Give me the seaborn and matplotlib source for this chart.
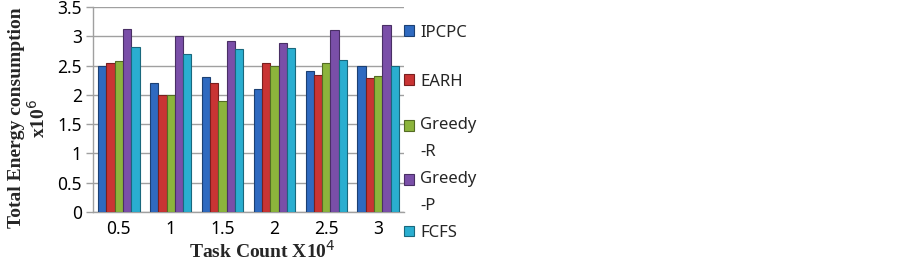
import matplotlib
matplotlib.use("Agg")
import matplotlib.pyplot as plt
import matplotlib.colors as mcolors
from matplotlib.patches import Rectangle
from matplotlib.legend_handler import HandlerPatch
import seaborn as sns
import pandas as pd

task_counts = ["0.5", "1", "1.5", "2", "2.5", "3"]
algorithms = ["IPCPC", "EARH", "Greedy-R", "Greedy-P", "FCFS"]
legend_labels = ["IPCPC", "EARH", "Greedy\n-R", "Greedy\n-P", "FCFS"]
ipcpc = [2.50, 2.20, 2.30, 2.10, 2.40, 2.50]
earh = [2.55, 2.00, 2.20, 2.54, 2.34, 2.28]
greedy_r = [2.58, 2.00, 1.90, 2.49, 2.55, 2.33]
greedy_p = [3.12, 3.00, 2.92, 2.88, 3.10, 3.20]
fcfs = [2.82, 2.70, 2.79, 2.80, 2.59, 2.50]
colors = ["#2f6ac0", "#c93434", "#8cb43c", "#7a4fa8", "#2aaed0"]

series = [ipcpc, earh, greedy_r, greedy_p, fcfs]
rows = []
for algo, vals in zip(algorithms, series):
    for t, v in zip(task_counts, vals):
        rows.append({"task": t, "energy": v, "algo": algo})
df = pd.DataFrame(rows)

sns.set_theme(style="white")
plt.rcParams["font.family"] = ["Noto Sans", "DejaVu Sans"]


def darker(c, f=0.6):
    return tuple(x * f for x in mcolors.to_rgb(c))


fig = plt.figure(figsize=(9.03, 2.62), dpi=100)
ax = fig.add_axes([0.103, 0.1908, 0.3444, 0.7825])

sns.barplot(data=df, x="task", y="energy", hue="algo", order=task_counts,
            hue_order=algorithms, palette=colors, width=0.8, ax=ax,
            saturation=1, errorbar=None, legend=False, zorder=3)

for p in ax.patches:
    p.set_edgecolor(darker(p.get_facecolor()))
    p.set_linewidth(0.8)

ax.set_ylim(0, 3.5)
ax.set_yticks([0, 0.5, 1, 1.5, 2, 2.5, 3, 3.5])
ax.set_yticklabels(["0", "0.5", "1", "1.5", "2", "2.5", "3", "3.5"])
ax.yaxis.grid(True, color="#a0a0a0", linewidth=1.0, zorder=0)
ax.set_axisbelow(True)
for s in ["top", "right"]:
    ax.spines[s].set_visible(False)
for s in ["left", "bottom"]:
    ax.spines[s].set_color("#a0a0a0")
    ax.spines[s].set_linewidth(1.0)
ax.tick_params(axis="y", length=5, color="#a0a0a0", width=1, labelsize=12.5, pad=3, left=True)
ax.tick_params(axis="x", length=0, labelsize=12.5, pad=6)
for lab in ax.get_xticklabels() + ax.get_yticklabels():
    lab.set_color("black")

ax.set_xlabel("Task Count X10$^{4}$", family="Liberation Serif", fontweight="bold",
              fontsize=14)
ax.xaxis.set_label_coords(0.543, -0.135)
ax.set_ylabel("Total Energy consumption\nx10$^{6}$", family="Liberation Serif",
              fontweight="bold", fontsize=14, linespacing=1.1)
ax.yaxis.set_label_coords(-0.141, 0.4585)


class TopPatch(HandlerPatch):
    def __init__(self, shift=0.0, **kw):
        super().__init__(**kw)
        self.shift = shift

    def create_artists(self, legend, orig_handle, xdescent, ydescent, width,
                       height, fontsize, trans):
        p = Rectangle(xy=(-xdescent, -ydescent + self.shift), width=width, height=height)
        self.update_prop(p, orig_handle, legend)
        p.set_transform(trans)
        return [p]


handles = [Rectangle((0, 0), 1, 1, facecolor=c, edgecolor=darker(c), linewidth=0.8)
           for c in colors]

common = dict(loc="upper left", frameon=False, fontsize=12, handlelength=0.6,
              handleheight=0.6, handletextpad=0.4, borderaxespad=0, borderpad=0)

legA = fig.legend(handles[:2], legend_labels[:2], bbox_to_anchor=(0.447, 0.906),
                  labelspacing=1.98, **common)
hmap = {handles[2]: TopPatch(9.4), handles[3]: TopPatch(9.4), handles[4]: TopPatch(0.0)}
legB = fig.legend(handles[2:], legend_labels[2:], bbox_to_anchor=(0.447, 0.555),
                  labelspacing=0.63, handler_map=hmap, **common)
for t in legB.get_texts():
    t.set_linespacing(1.97)

fig.savefig("out.png", dpi=100)
